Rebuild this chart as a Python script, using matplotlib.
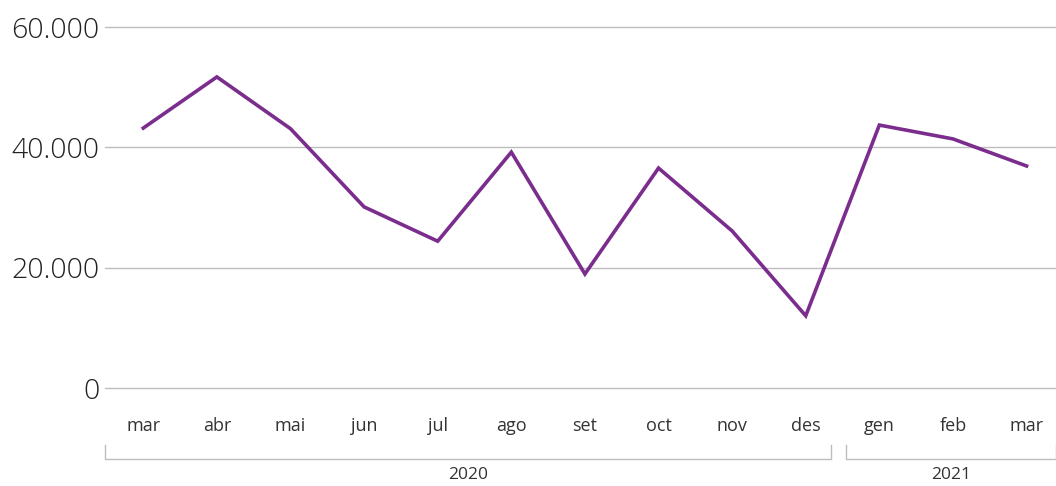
import matplotlib.pyplot as plt
from matplotlib.ticker import FuncFormatter

plt.rcParams['font.family'] = ['Open Sans', 'DejaVu Sans']

# dades
months = ['mar', 'abr', 'mai', 'jun', 'jul', 'ago', 'set', 'oct', 'nov', 'des', 'gen', 'feb', 'mar']
values = [43200, 51700, 43100, 30100, 24400, 39200, 18950, 36550, 26100, 12000, 43700, 41400, 36900]
years = ['2020', '2021']
year_spans = [(0, 9), (10, 12)]
yticks = [0, 20000, 40000, 60000]

fig = plt.figure(figsize=(10.56, 4.86), dpi=100)
ax = fig.add_axes([105 / 1056, 1 - 388 / 486, 951 / 1056, 361 / 486])

x = list(range(len(months)))
ax.plot(x, values, color='#7b2d8e', linewidth=2.6, solid_joinstyle='miter', zorder=3)

ax.set_xlim(-0.52, 12.4)
ax.set_ylim(0, 60000)
ax.set_yticks(yticks)
ax.yaxis.set_major_formatter(FuncFormatter(lambda v, p: f'{int(v):,}'.replace(',', '.')))
ax.set_xticks(x)
ax.set_xticklabels(months)
ax.grid(axis='y', color='#bdbdbd', linewidth=1)
for gl in ax.get_ygridlines():
    gl.set_clip_on(False)
ax.set_axisbelow(True)
for s in ax.spines.values():
    s.set_visible(False)
ax.tick_params(axis='y', length=0, pad=4, labelsize=20.5, labelcolor='#222222')
ax.tick_params(axis='x', length=0, pad=21, labelsize=13, labelcolor='#333333')
for lab in ax.get_yticklabels():
    lab.set_fontweight('light')

# claudàtors dels anys
tr = ax.get_xaxis_transform()
for (a, b), yr in zip(year_spans, years):
    lo = a - 0.45 if a > 0 else -0.52
    hi = b + 0.34 if b < 12 else 12.4
    ax.plot([lo, lo, hi, hi], [-0.158, -0.197, -0.197, -0.158], transform=tr,
            color='#bdbdbd', linewidth=1, clip_on=False)
    ax.text((lo + hi) / 2, -0.241, yr, transform=tr, ha='center', va='center',
            fontsize=12.5, color='#333333')

fig.savefig('out.png', dpi=100)
